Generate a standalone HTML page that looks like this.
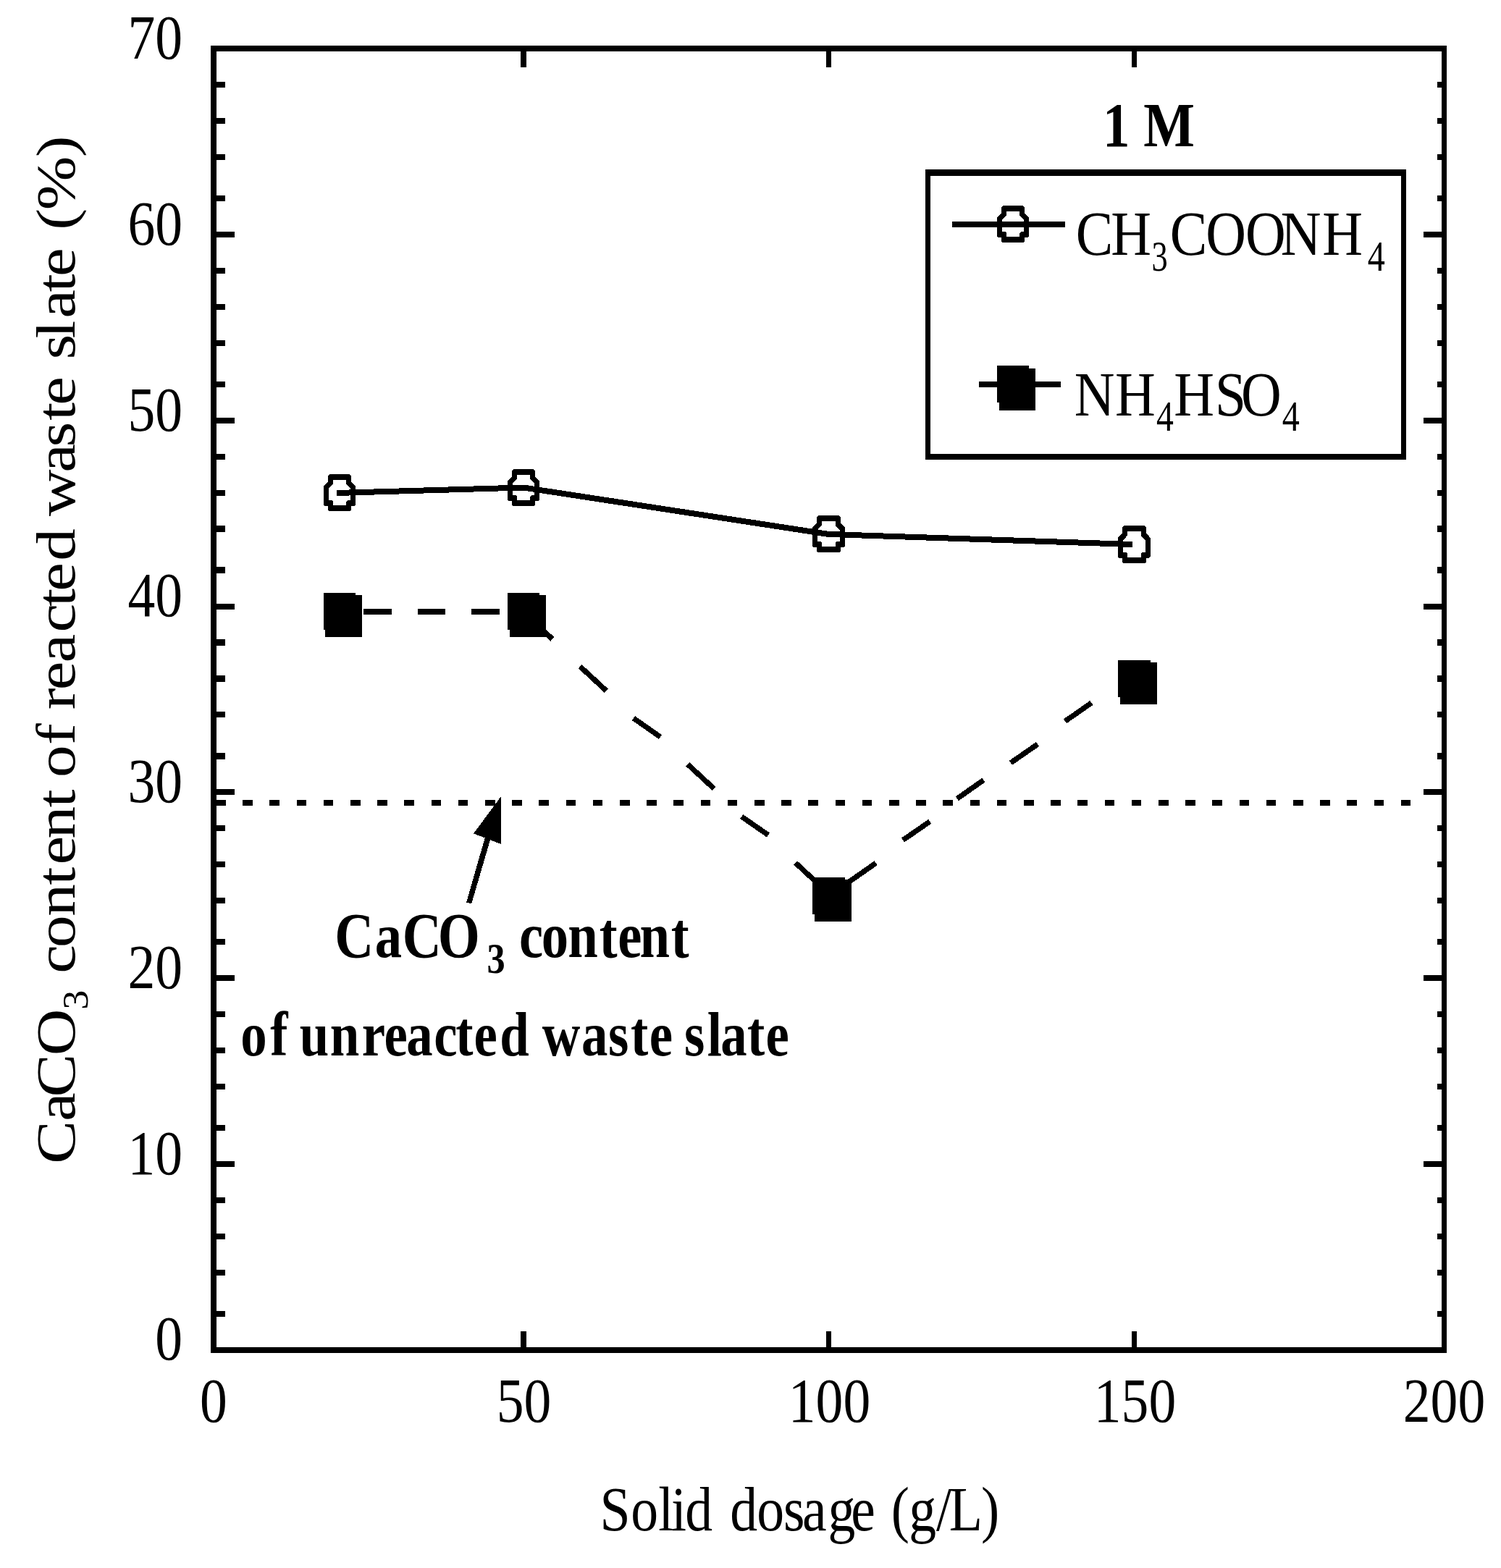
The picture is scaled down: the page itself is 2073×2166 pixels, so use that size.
<!DOCTYPE html>
<html lang="en">
<head>
<meta charset="utf-8">
<title>CaCO3 content of reacted waste slate vs solid dosage</title>
<style>
html, body { margin: 0; padding: 0; background: #fff; }
body { width: 2073px; height: 2166px; }
svg { display: block; }
text { white-space: pre; }
</style>
</head>
<body>
<svg width="2073" height="2166" viewBox="0 0 2073 2166" fill="#000" shape-rendering="crispEdges">
<rect x="0" y="0" width="2073" height="2166" fill="#fff"/>
<g id="frame" shape-rendering="crispEdges">
<rect x="291" y="63" width="8" height="1806"/>
<rect x="1991" y="63" width="7" height="1806"/>
<rect x="291" y="63" width="1707" height="8"/>
<rect x="291" y="1861" width="1707" height="8"/>
<rect x="299" y="113" width="12" height="8"/>
<rect x="1985" y="113" width="6" height="8"/>
<rect x="299" y="163" width="12" height="8"/>
<rect x="1985" y="163" width="6" height="8"/>
<rect x="299" y="213" width="12" height="8"/>
<rect x="1985" y="213" width="6" height="8"/>
<rect x="299" y="270" width="12" height="8"/>
<rect x="1985" y="270" width="6" height="8"/>
<rect x="299" y="320" width="25" height="8"/>
<rect x="1966" y="320" width="25" height="8"/>
<rect x="299" y="370" width="12" height="8"/>
<rect x="1985" y="370" width="6" height="8"/>
<rect x="299" y="420" width="12" height="8"/>
<rect x="1985" y="420" width="6" height="8"/>
<rect x="299" y="470" width="12" height="8"/>
<rect x="1985" y="470" width="6" height="8"/>
<rect x="299" y="527" width="12" height="8"/>
<rect x="1985" y="527" width="6" height="8"/>
<rect x="299" y="577" width="25" height="8"/>
<rect x="1966" y="577" width="25" height="8"/>
<rect x="299" y="627" width="12" height="8"/>
<rect x="1985" y="627" width="6" height="8"/>
<rect x="299" y="677" width="12" height="8"/>
<rect x="1985" y="677" width="6" height="8"/>
<rect x="299" y="726" width="12" height="9"/>
<rect x="1985" y="726" width="6" height="9"/>
<rect x="299" y="783" width="12" height="9"/>
<rect x="1985" y="783" width="6" height="9"/>
<rect x="299" y="834" width="25" height="8"/>
<rect x="1966" y="834" width="25" height="8"/>
<rect x="299" y="883" width="12" height="9"/>
<rect x="1985" y="883" width="6" height="9"/>
<rect x="299" y="933" width="12" height="9"/>
<rect x="1985" y="933" width="6" height="9"/>
<rect x="299" y="983" width="12" height="8"/>
<rect x="1985" y="983" width="6" height="8"/>
<rect x="299" y="1040" width="12" height="9"/>
<rect x="1985" y="1040" width="6" height="9"/>
<rect x="299" y="1090" width="25" height="8"/>
<rect x="1966" y="1090" width="25" height="8"/>
<rect x="299" y="1140" width="12" height="8"/>
<rect x="1985" y="1140" width="6" height="8"/>
<rect x="299" y="1190" width="12" height="8"/>
<rect x="1985" y="1190" width="6" height="8"/>
<rect x="299" y="1240" width="12" height="8"/>
<rect x="1985" y="1240" width="6" height="8"/>
<rect x="299" y="1297" width="12" height="8"/>
<rect x="1985" y="1297" width="6" height="8"/>
<rect x="299" y="1347" width="25" height="8"/>
<rect x="1966" y="1347" width="25" height="8"/>
<rect x="299" y="1397" width="12" height="8"/>
<rect x="1985" y="1397" width="6" height="8"/>
<rect x="299" y="1447" width="12" height="8"/>
<rect x="1985" y="1447" width="6" height="8"/>
<rect x="299" y="1497" width="12" height="8"/>
<rect x="1985" y="1497" width="6" height="8"/>
<rect x="299" y="1554" width="12" height="8"/>
<rect x="1985" y="1554" width="6" height="8"/>
<rect x="299" y="1604" width="25" height="8"/>
<rect x="1966" y="1604" width="25" height="8"/>
<rect x="299" y="1654" width="12" height="8"/>
<rect x="1985" y="1654" width="6" height="8"/>
<rect x="299" y="1704" width="12" height="8"/>
<rect x="1985" y="1704" width="6" height="8"/>
<rect x="299" y="1754" width="12" height="8"/>
<rect x="1985" y="1754" width="6" height="8"/>
<rect x="299" y="1811" width="12" height="8"/>
<rect x="1985" y="1811" width="6" height="8"/>
<rect x="719" y="1839" width="8" height="22"/>
<rect x="719" y="71" width="8" height="22"/>
<rect x="1141" y="1839" width="7" height="22"/>
<rect x="1141" y="71" width="7" height="22"/>
<rect x="1563" y="1839" width="7" height="22"/>
<rect x="1563" y="71" width="7" height="22"/>
</g>
<g id="refline" shape-rendering="crispEdges">
<rect x="299" y="1105" width="13" height="8"/>
<rect x="335" y="1105" width="14" height="8"/>
<rect x="372" y="1105" width="14" height="8"/>
<rect x="410" y="1105" width="13" height="8"/>
<rect x="447" y="1105" width="13" height="8"/>
<rect x="484" y="1105" width="14" height="8"/>
<rect x="521" y="1105" width="14" height="8"/>
<rect x="558" y="1105" width="14" height="8"/>
<rect x="596" y="1105" width="13" height="8"/>
<rect x="633" y="1105" width="13" height="8"/>
<rect x="670" y="1105" width="14" height="8"/>
<rect x="707" y="1105" width="14" height="8"/>
<rect x="744" y="1105" width="14" height="8"/>
<rect x="782" y="1105" width="13" height="8"/>
<rect x="819" y="1105" width="13" height="8"/>
<rect x="856" y="1105" width="14" height="8"/>
<rect x="893" y="1105" width="14" height="8"/>
<rect x="930" y="1105" width="14" height="8"/>
<rect x="968" y="1105" width="13" height="8"/>
<rect x="1005" y="1105" width="13" height="8"/>
<rect x="1042" y="1105" width="14" height="8"/>
<rect x="1079" y="1105" width="14" height="8"/>
<rect x="1116" y="1105" width="14" height="8"/>
<rect x="1154" y="1105" width="13" height="8"/>
<rect x="1191" y="1105" width="13" height="8"/>
<rect x="1228" y="1105" width="14" height="8"/>
<rect x="1265" y="1105" width="14" height="8"/>
<rect x="1302" y="1105" width="14" height="8"/>
<rect x="1340" y="1105" width="13" height="8"/>
<rect x="1377" y="1105" width="13" height="8"/>
<rect x="1414" y="1105" width="14" height="8"/>
<rect x="1451" y="1105" width="14" height="8"/>
<rect x="1488" y="1105" width="14" height="8"/>
<rect x="1526" y="1105" width="13" height="8"/>
<rect x="1563" y="1105" width="13" height="8"/>
<rect x="1600" y="1105" width="14" height="8"/>
<rect x="1637" y="1105" width="14" height="8"/>
<rect x="1674" y="1105" width="14" height="8"/>
<rect x="1712" y="1105" width="13" height="8"/>
<rect x="1749" y="1105" width="13" height="8"/>
<rect x="1786" y="1105" width="14" height="8"/>
<rect x="1823" y="1105" width="14" height="8"/>
<rect x="1860" y="1105" width="14" height="8"/>
<rect x="1898" y="1105" width="13" height="8"/>
<rect x="1935" y="1105" width="13" height="8"/>
</g>
<g id="series-acetate">
<polyline points="465,681 723,673.5 1144.5,738 1564,752" fill="none" stroke="#000" stroke-width="8" stroke-linejoin="miter"/>
<path d="M455.0 655.0 L482.0 655.0 L485.0 657.0 L485.0 665.0 L491.0 672.0 L491.0 697.0 L489.0 699.0 L485.0 699.0 L485.0 705.0 L483.0 706.0 L455.0 706.0 L453.0 705.0 L453.0 699.0 L449.0 699.0 L447.0 698.0 L447.0 671.0 L453.0 665.0 L453.0 657.0 Z M460.0 663.0 L478.0 663.0 L478.0 669.0 L484.0 675.0 L484.0 691.0 L480.0 691.0 L478.0 693.0 L478.0 698.0 L460.0 698.0 L460.0 693.0 L458.0 691.0 L454.0 691.0 L454.0 675.0 L460.0 668.0 Z" fill-rule="evenodd"/>
<path d="M709.0 648.0 L736.0 648.0 L739.0 650.0 L739.0 658.0 L745.0 665.0 L745.0 690.0 L743.0 692.0 L739.0 692.0 L739.0 698.0 L737.0 699.0 L709.0 699.0 L707.0 698.0 L707.0 692.0 L703.0 692.0 L701.0 691.0 L701.0 664.0 L707.0 658.0 L707.0 650.0 Z M714.0 656.0 L732.0 656.0 L732.0 662.0 L738.0 668.0 L738.0 684.0 L734.0 684.0 L732.0 686.0 L732.0 691.0 L714.0 691.0 L714.0 686.0 L712.0 684.0 L708.0 684.0 L708.0 668.0 L714.0 661.0 Z" fill-rule="evenodd"/>
<path d="M1130.2 712.0 L1157.8 712.0 L1160.9 714.0 L1160.9 722.0 L1167.0 729.0 L1167.0 754.0 L1165.0 756.0 L1160.9 756.0 L1160.9 762.0 L1158.8 763.0 L1130.2 763.0 L1128.1 762.0 L1128.1 756.0 L1124.0 756.0 L1122.0 755.0 L1122.0 728.0 L1128.1 722.0 L1128.1 714.0 Z M1135.3 720.0 L1153.7 720.0 L1153.7 726.0 L1159.8 732.0 L1159.8 748.0 L1155.8 748.0 L1153.7 750.0 L1153.7 755.0 L1135.3 755.0 L1135.3 750.0 L1133.2 748.0 L1129.2 748.0 L1129.2 732.0 L1135.3 725.0 Z" fill-rule="evenodd"/>
<path d="M1552.2 726.0 L1579.8 726.0 L1582.9 728.0 L1582.9 736.2 L1589.0 743.3 L1589.0 768.8 L1587.0 770.9 L1582.9 770.9 L1582.9 777.0 L1580.8 778.0 L1552.2 778.0 L1550.1 777.0 L1550.1 770.9 L1546.0 770.9 L1544.0 769.8 L1544.0 742.3 L1550.1 736.2 L1550.1 728.0 Z M1557.3 734.2 L1575.7 734.2 L1575.7 740.3 L1581.8 746.4 L1581.8 762.7 L1577.8 762.7 L1575.7 764.7 L1575.7 769.8 L1557.3 769.8 L1557.3 764.7 L1555.2 762.7 L1551.2 762.7 L1551.2 746.4 L1557.3 739.3 Z" fill-rule="evenodd"/>
</g>
<g id="series-bisulfate">
<g fill="none" stroke="#000" stroke-width="7.3">
<line x1="745" y1="866" x2="763" y2="882.9"/>
<line x1="801.2" y1="920.7" x2="837.4" y2="954.3"/>
<line x1="874.9" y1="992.1" x2="911.9" y2="1018"/>
<line x1="949.7" y1="1055.7" x2="986" y2="1089.4"/>
<line x1="1024.2" y1="1128" x2="1061" y2="1153.5"/>
<line x1="1098.5" y1="1191.8" x2="1130" y2="1221"/>
<line x1="1160" y1="1227" x2="1209.7" y2="1192.2"/>
<line x1="1247" y1="1160.5" x2="1284.2" y2="1134.8"/>
<line x1="1321.8" y1="1103.3" x2="1358.3" y2="1077.6"/>
<line x1="1395.8" y1="1053.8" x2="1433.1" y2="1028"/>
<line x1="1471" y1="996.3" x2="1507.4" y2="970.9"/>
</g>
<g shape-rendering="crispEdges">
<rect x="502" y="841" width="39" height="8"/>
<rect x="577" y="841" width="38" height="8"/>
<rect x="651" y="841" width="39" height="8"/>
<rect x="447" y="819" width="44" height="51"/>
<rect x="449" y="822" width="51" height="58"/>
<rect x="701" y="819" width="44" height="51"/>
<rect x="704" y="822" width="50" height="58"/>
<rect x="1122" y="1212" width="45" height="51"/>
<rect x="1125" y="1215" width="51" height="58"/>
<rect x="1544" y="912" width="45" height="51"/>
<rect x="1547" y="915" width="51" height="58"/>
</g>
</g>
<g id="legend">
<g shape-rendering="crispEdges">
<rect x="1278" y="234" width="664" height="9"/>
<rect x="1278" y="627" width="664" height="8"/>
<rect x="1278" y="234" width="7" height="401"/>
<rect x="1935" y="234" width="7" height="401"/>
<rect x="1315" y="306" width="156" height="8"/>
<rect x="1352" y="527" width="113" height="8"/>
<rect x="1377" y="505" width="44" height="51"/>
<rect x="1380" y="509" width="50" height="58"/>
</g>
<path d="M1385.0 284.0 L1412.0 284.0 L1415.0 286.0 L1415.0 294.0 L1421.0 301.0 L1421.0 326.0 L1419.0 328.0 L1415.0 328.0 L1415.0 334.0 L1413.0 335.0 L1385.0 335.0 L1383.0 334.0 L1383.0 328.0 L1379.0 328.0 L1377.0 327.0 L1377.0 300.0 L1383.0 294.0 L1383.0 286.0 Z M1390.0 292.0 L1408.0 292.0 L1408.0 298.0 L1414.0 304.0 L1414.0 320.0 L1410.0 320.0 L1408.0 322.0 L1408.0 327.0 L1390.0 327.0 L1390.0 322.0 L1388.0 320.0 L1384.0 320.0 L1384.0 304.0 L1390.0 297.0 Z" fill-rule="evenodd"/>
</g>
<g id="arrow">
<polygon points="691.5,1100.8 692,1166 654,1151.4"/>
<polygon points="669.8,1157.2 677,1160.4 651.1,1248.6 644.1,1246.4"/>
</g>
<g id="labels" font-family="'Liberation Serif', 'Times New Roman', Times, serif" fill="#000">
<g id="y-tick-labels">
<text transform="translate(252 81) scale(0.862 1)" font-size="87.7" text-anchor="end">70</text>
<text transform="translate(252 338) scale(0.862 1)" font-size="87.7" text-anchor="end">60</text>
<text transform="translate(252 595) scale(0.862 1)" font-size="87.7" text-anchor="end">50</text>
<text transform="translate(252 851) scale(0.862 1)" font-size="87.7" text-anchor="end">40</text>
<text transform="translate(252 1108) scale(0.862 1)" font-size="87.7" text-anchor="end">30</text>
<text transform="translate(252 1365) scale(0.862 1)" font-size="87.7" text-anchor="end">20</text>
<text transform="translate(252 1622) scale(0.862 1)" font-size="87.7" text-anchor="end">10</text>
<text transform="translate(252 1878) scale(0.862 1)" font-size="87.7" text-anchor="end">0</text>
</g>
<g id="x-tick-labels">
<text transform="translate(295 1964) scale(0.862 1)" font-size="87.7" text-anchor="middle">0</text>
<text transform="translate(723.5 1964) scale(0.862 1)" font-size="87.7" text-anchor="middle">50</text>
<text transform="translate(1145.5 1964) scale(0.862 1)" font-size="87.7" text-anchor="middle">100</text>
<text transform="translate(1567.5 1964) scale(0.862 1)" font-size="87.7" text-anchor="middle">150</text>
<text transform="translate(1994.5 1964) scale(0.862 1)" font-size="87.7" text-anchor="middle">200</text>
</g>
<text id="x-title" transform="translate(0 2114.2) scale(0.862 1)" font-size="87.7"><tspan x="961.19 1010.85 1054.81 1075.55 1097.85 1141.70 1169.60 1212.53 1255.23 1285.34 1326.45 1363.35 1402.27 1427.92 1456.26 1500.00 1520.64 1571.82">Solid dosage (g/L)</tspan></text>
<text id="y-title" transform="translate(103.4 1613.6) rotate(-90) scale(1.02 0.88)" font-size="87.7"><tspan x="5.74 63.22 96.28 152.30">CaCO</tspan><tspan x="214.46" dy="19.6" font-size="57" textLength="26.51" lengthAdjust="spacingAndGlyphs">3</tspan><tspan x="240.96 263.65 298.57 341.07 383.48 410.83 446.11 488.48 512.84 529.15 573.17 602.37 620.98 647.45 684.30 725.61 760.68 781.18 822.42 866.27 883.04 942.10 976.64 1012.50 1033.09 1072.02 1095.17 1123.60 1150.82 1186.62 1207.45 1246.38 1270.52 1297.49 1369.10" dy="-19.6"> content of reacted waste slate (%)</tspan></text>
<text id="conc" transform="translate(1523 201.85) scale(0.855 1)" font-size="87.7" font-weight="bold">1 M</text>
<text id="legend-acetate" transform="translate(0 352.4) scale(0.88 1)" font-size="87.7"><tspan x="1688.31 1743.35">CH</tspan><tspan x="1807.53" dy="21.6" font-size="59.5" textLength="25.29" lengthAdjust="spacingAndGlyphs">3</tspan><tspan x="1835.98 1892.20 1954.47 2009.84 2075.17" dy="-21.6">COONH</tspan><tspan x="2146.26" dy="21.6" font-size="59.5" textLength="27.37" lengthAdjust="spacingAndGlyphs">4</tspan></text>
<text id="legend-bisulfate" transform="translate(0 573.5) scale(0.88 1)" font-size="87.7"><tspan x="1686.14 1750.06">NH</tspan><tspan x="1814.88" dy="21.6" font-size="59.5" textLength="27.07" lengthAdjust="spacingAndGlyphs">4</tspan><tspan x="1842.22 1906.88 1947.82" dy="-21.6">HSO</tspan><tspan x="2012.17" dy="21.6" font-size="59.5" textLength="27.37" lengthAdjust="spacingAndGlyphs">4</tspan></text>
<text id="note-line1" transform="translate(0 1322) scale(0.845 1)" font-size="88.3" font-weight="bold"><tspan x="547.13 612.85 657.61 715.72">CaCO</tspan><tspan x="795.79" dy="21.6" font-size="59.5">3</tspan><tspan x="825.54 848.40 885.03 928.24 979.51 1009.74 1045.52 1096.67" dy="-21.6"> content</tspan></text>
<text id="note-line2" transform="translate(0 1457.6) scale(0.83 1)" font-size="87.7" font-weight="bold"><tspan x="400.30 449.77 478.97 498.54 549.07 602.05 639.09 676.18 722.12 758.02 788.61 831.50 880.27 902.05 967.51 1012.14 1049.40 1080.29 1119.22 1138.58 1176.87 1199.13 1243.38 1274.03">of unreacted waste slate</tspan></text>
</g>
</svg>
</body>
</html>
